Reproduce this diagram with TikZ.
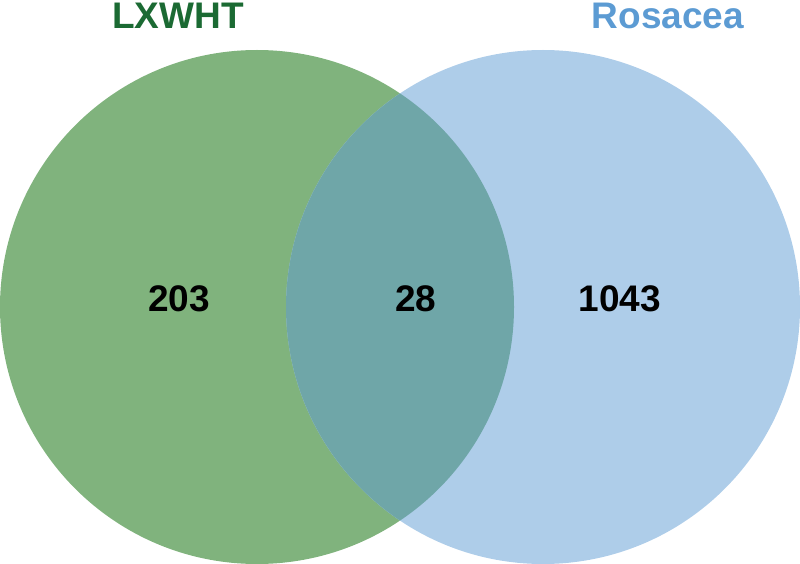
\documentclass[tikz,border=0pt]{standalone}
\usepackage{fontspec}
\setmainfont{Liberation Sans}
\definecolor{gA}{HTML}{80B37D}
\definecolor{bA}{HTML}{AECDE9}
\definecolor{mA}{HTML}{6FA6A8}
\definecolor{gT}{HTML}{1B6A33}
\definecolor{bT}{HTML}{5C9BD3}
\tikzset{num/.style={font=\bfseries\fontsize{37}{40}\selectfont,text=black,inner sep=0pt},
lab/.style={font=\bfseries\fontsize{37}{40}\selectfont,inner sep=0pt}}
\begin{document}
\begin{tikzpicture}[x=1pt,y=-1pt]
\useasboundingbox (0,0) rectangle (800,564);
\fill[gA] (257,307) circle (257);
\fill[bA] (543,307) circle (257);
\begin{scope}
\clip (257,307) circle (257);
\fill[mA] (543,307) circle (257);
\end{scope}
\node[lab,text=gT] (l1) at (178,16) {LXWHT};
\node[lab,text=bT] (l2) at (668,16) {Rosacea};
\node[num] (n1) at (179,299) {203};
\node[num] (n2) at (416,299) {28};
\node[num] (n3) at (620,299) {1043};
\end{tikzpicture}
\end{document}
